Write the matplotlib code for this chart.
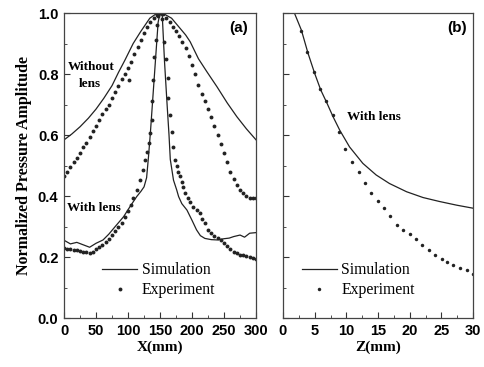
import matplotlib.pyplot as plt
from matplotlib.ticker import MultipleLocator

# ---- panel (a): lateral profiles ----
x_nolens_sim = [0, 12, 25, 38, 50, 62, 75, 85, 95, 108, 120, 134, 143, 150, 157, 168,
                180, 190, 197, 210, 223, 239, 255, 270, 285, 300]
y_nolens_sim = [0.584, 0.603, 0.627, 0.655, 0.685, 0.72, 0.762, 0.805, 0.845, 0.9, 0.94,
                0.983, 0.996, 1.0, 0.996, 0.983, 0.953, 0.928, 0.906, 0.85, 0.808, 0.758,
                0.705, 0.66, 0.62, 0.584]

x_nolens_exp = [0, 5, 10, 15, 20, 25, 30, 35, 40, 45, 50, 55, 60, 65, 70, 75, 80, 85, 90,
                95, 100, 105, 110, 115, 120, 125, 130, 135, 140, 145, 150, 155, 160, 165,
                170, 175, 180, 185, 190, 195, 200, 205, 210, 215, 220, 225, 230, 235, 240,
                245, 250, 255, 260, 265, 270, 275, 280, 285, 290, 295, 300, 101]
y_nolens_exp = [0.465, 0.48, 0.495, 0.51, 0.525, 0.54, 0.56, 0.575, 0.595, 0.612, 0.63,
                0.65, 0.668, 0.685, 0.70, 0.72, 0.74, 0.76, 0.785, 0.80, 0.82, 0.84, 0.865,
                0.89, 0.91, 0.935, 0.955, 0.97, 0.985, 0.995, 1.0, 0.998, 0.985, 0.97,
                0.955, 0.94, 0.925, 0.905, 0.885, 0.86, 0.83, 0.80, 0.765, 0.735, 0.71,
                0.685, 0.66, 0.63, 0.60, 0.57, 0.54, 0.51, 0.48, 0.455, 0.435, 0.42, 0.41,
                0.40, 0.395, 0.395, 0.393, 0.78]

x_lens_sim = [0, 10, 20, 30, 40, 50, 61, 70, 80, 93, 103, 113.5, 120, 125, 129, 132, 135,
              138, 141, 144, 147, 150, 153.5, 157, 161, 164, 166, 171, 176, 179, 184, 192,
              200, 207, 213, 220, 230, 239, 250, 258, 265, 275, 282, 290, 300]
y_lens_sim = [0.255, 0.243, 0.248, 0.24, 0.232, 0.245, 0.256, 0.275, 0.30, 0.332, 0.365,
              0.398, 0.415, 0.43, 0.46, 0.53, 0.61, 0.70, 0.79, 0.88, 0.97, 1.0, 0.99,
              0.84, 0.70, 0.60, 0.52, 0.452, 0.42, 0.398, 0.375, 0.354, 0.32, 0.289, 0.27,
              0.261, 0.257, 0.256, 0.26, 0.262, 0.267, 0.272, 0.265, 0.278, 0.28]

x_lens_exp = [0, 5, 10, 15, 20, 25, 30, 35, 40, 45, 50, 55, 60, 65, 70, 75, 80, 85, 90, 95,
              100, 104, 108, 113.5, 119, 124, 126.6, 129, 132, 134, 137, 138, 139.5, 141,
              143, 145, 147, 150, 153, 156.7, 159.4, 162, 163, 165.6, 168, 171, 173.4, 176,
              178.6, 181, 184, 186.5, 189, 193, 197, 202, 207, 212.5, 216, 220, 225, 230,
              235, 240, 245, 250, 255, 260, 265, 270, 275, 280, 285, 290, 295, 300]
y_lens_exp = [0.228, 0.227, 0.226, 0.224, 0.223, 0.221, 0.218, 0.215, 0.212, 0.218, 0.225,
              0.232, 0.24, 0.248, 0.26, 0.272, 0.285, 0.30, 0.313, 0.33, 0.35, 0.37, 0.392,
              0.42, 0.452, 0.485, 0.518, 0.545, 0.573, 0.605, 0.65, 0.712, 0.78, 0.857,
              0.91, 0.96, 0.99, 1.0, 0.98, 0.906, 0.848, 0.786, 0.72, 0.666, 0.611, 0.562,
              0.518, 0.50, 0.48, 0.465, 0.447, 0.43, 0.41, 0.395, 0.38, 0.365, 0.355, 0.343,
              0.325, 0.31, 0.29, 0.278, 0.27, 0.262, 0.255, 0.245, 0.235, 0.226, 0.218,
              0.213, 0.208, 0.206, 0.204, 0.20, 0.197, 0.195]

# ---- panel (b): axial profile with lens ----
z_sim = [1.8, 2.9, 3.95, 5, 5.95, 6.95, 7.9, 8.95, 10.5, 12.6, 14.7, 16.8, 19.5, 22.1,
         24.7, 27.4, 30]
p_sim = [1.0, 0.944, 0.868, 0.802, 0.748, 0.704, 0.66, 0.616, 0.561, 0.507, 0.469, 0.441,
         0.414, 0.395, 0.382, 0.37, 0.36]

z_exp = [2.9, 3.85, 4.85, 5.9, 6.85, 7.9, 8.85, 9.85, 10.9, 11.95, 12.9, 13.95, 15, 15.9,
         16.9, 18, 18.95, 20, 21, 22, 23.1, 24, 25.06, 25.9, 26.9, 28, 29, 30]
p_exp = [0.94, 0.873, 0.808, 0.75, 0.71, 0.666, 0.609, 0.553, 0.512, 0.48, 0.444, 0.409,
         0.385, 0.36, 0.334, 0.305, 0.289, 0.275, 0.258, 0.24, 0.222, 0.207, 0.193, 0.182,
         0.174, 0.165, 0.158, 0.145]

line_c = "#222222"
serif = "Liberation Serif"
sans = "Liberation Sans"

fig = plt.figure(figsize=(4.85, 3.67), dpi=100)
ax1 = fig.add_axes([0.132, 0.1335, 0.396, 0.831])
ax2 = fig.add_axes([0.5835, 0.1335, 0.392, 0.831])

ax1.plot(x_nolens_sim, y_nolens_sim, color=line_c, lw=0.9)
ax1.plot(x_lens_sim, y_lens_sim, color=line_c, lw=0.9, label="Simulation")
ax1.plot(x_nolens_exp, y_nolens_exp, "o", color=line_c, ms=2.8, mew=0)
ax1.plot(x_lens_exp, y_lens_exp, "o", color=line_c, ms=2.8, mew=0, label="Experiment")

ax2.plot(z_sim, p_sim, color=line_c, lw=0.9, label="Simulation")
ax2.plot(z_exp, p_exp, "o", color=line_c, ms=2.5, mew=0, label="Experiment")

ax1.set_xlim(0, 300)
ax2.set_xlim(0, 30)
for ax in (ax1, ax2):
    ax.set_ylim(0, 1.0)
    ax.yaxis.set_major_locator(MultipleLocator(0.2))
    ax.yaxis.set_minor_locator(MultipleLocator(0.1))
    ax.tick_params(which="both", direction="in", top=False, right=False,
                   labelsize=10.5, pad=4, color="#333333")
    ax.tick_params(which="major", length=4)
    ax.tick_params(which="minor", length=2.5)
    for lab in ax.get_xticklabels() + ax.get_yticklabels():
        lab.set_fontfamily(sans)
        lab.set_fontweight("bold")
    for sp in ax.spines.values():
        sp.set_color("#444444")
        sp.set_linewidth(0.9)
    ax.legend(loc="upper left", bbox_to_anchor=(0.1 if ax is ax2 else 0.2, 0.183),
              frameon=False, numpoints=1, handlelength=2.2, handletextpad=0.3,
              labelspacing=0.25, borderpad=0, borderaxespad=0,
              prop={"family": serif, "size": 11.3})

ax1.xaxis.set_major_locator(MultipleLocator(50))
ax1.xaxis.set_minor_locator(MultipleLocator(25))
ax2.xaxis.set_major_locator(MultipleLocator(5))
ax2.xaxis.set_minor_locator(MultipleLocator(2.5))
ax2.tick_params(labelleft=False)

ax1.set_xlabel("X(mm)", family=serif, weight="bold", size=11, labelpad=2)
ax2.set_xlabel("Z(mm)", family=serif, weight="bold", size=11, labelpad=2)
ax1.set_ylabel("Normalized Pressure Amplitude", family=serif, weight="bold", size=11.5,
               labelpad=4)

ax1.text(43, 0.823, "Without", family=serif, weight="bold", size=9.5, ha="center", va="center")
ax1.text(40, 0.767, "lens", family=serif, weight="bold", size=9.5, ha="center", va="center")
ax1.text(47, 0.36, "With lens", family=serif, weight="bold", size=9.5, ha="center", va="center")
ax2.text(14.3, 0.66, "With lens", family=serif, weight="bold", size=9.5, ha="center", va="center")

ax1.text(273, 0.95, "(a)", family=sans, weight="bold", size=11, ha="center", va="center")
ax2.text(27.5, 0.95, "(b)", family=sans, weight="bold", size=11, ha="center", va="center")

fig.savefig("out.png", dpi=100)
